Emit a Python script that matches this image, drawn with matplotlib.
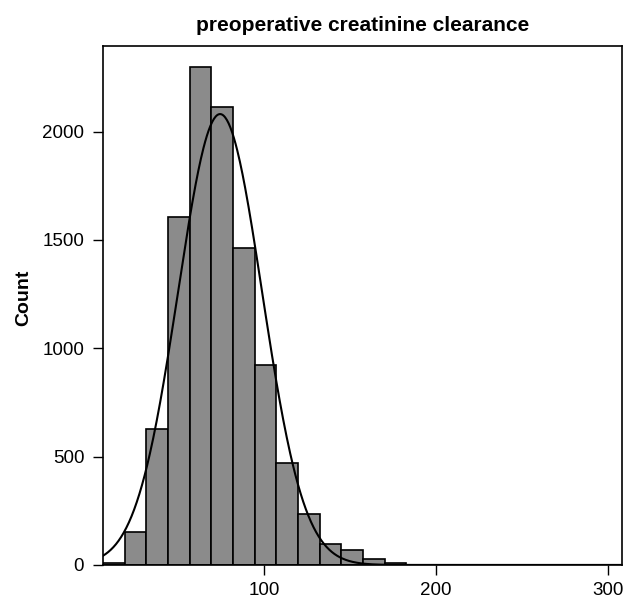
import numpy as np
import matplotlib
matplotlib.use("Agg")
from matplotlib import pyplot as plt

plt.rcParams['font.family'] = ['Liberation Sans', 'DejaVu Sans']

# histogram (left bin edge, width, counts)
first_edge = 6.4
bin_width = 12.6
counts = [10, 153, 628, 1605, 2297, 2115, 1463, 923, 471, 235, 95, 68, 28, 9]

# fitted normal curve parameters
fit_mean = 74.4
fit_sd = 24.4

title = "preoperative creatinine clearance"
y_label = "Count"
x_ticks = [100, 200, 300]
y_ticks = [0, 500, 1000, 1500, 2000]

edges = first_edge + bin_width * np.arange(len(counts))
n_total = sum(counts)

fig = plt.figure(figsize=(6.24, 6.01), dpi=100)
ax = fig.add_axes([0.165, 0.06, 0.832, 0.8635])

ax.bar(edges, counts, width=bin_width, align='edge',
       color='#8b8b8b', edgecolor='black', linewidth=1.2)

xs = np.linspace(6.3, 308.2, 600)
dens = n_total * bin_width / (fit_sd * np.sqrt(2 * np.pi)) * np.exp(-0.5 * ((xs - fit_mean) / fit_sd) ** 2)
ax.plot(xs, dens, color='black', linewidth=1.5)

ax.set_xlim(6.3, 308.2)
ax.set_ylim(0, 2395)
ax.set_xticks(x_ticks)
ax.set_yticks(y_ticks)
ax.tick_params(direction='out', length=7.5, width=1, labelsize=13.5)
ax.tick_params(axis='x', pad=5)
ax.tick_params(axis='y', pad=6)
for s in ax.spines.values():
    s.set_linewidth(1.2)

ax.set_ylabel(y_label, fontsize=14, fontweight='bold', labelpad=7)
ax.yaxis.label.set_y(0.515)
ax.set_title(title, fontsize=15, fontweight='bold', pad=11)

fig.savefig("out.png", dpi=100)
